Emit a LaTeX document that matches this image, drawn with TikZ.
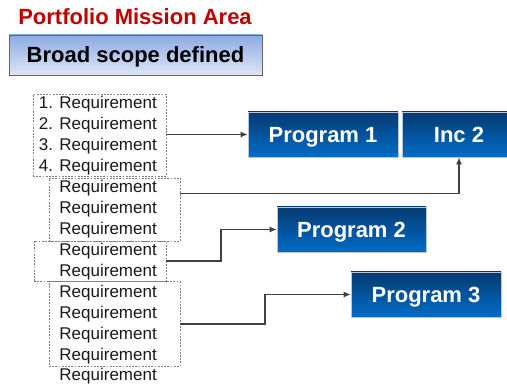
\documentclass[tikz,border=0pt]{standalone}
\usepackage{fontspec}
\setmainfont{Liberation Sans}
\usetikzlibrary{arrows.meta,calc}

\definecolor{titlered}{RGB}{192,0,0}
\definecolor{progtop}{RGB}{6,58,112}
\definecolor{progmid}{RGB}{0,94,176}
\definecolor{progbot}{RGB}{0,108,200}
\definecolor{scopetop}{RGB}{140,170,226}
\definecolor{scopebot}{RGB}{222,230,247}
\definecolor{linegray}{RGB}{64,64,64}

\begin{document}
\begin{tikzpicture}[
		x=1pt, y=-1pt,
		every node/.style={inner sep=0pt},
		prog/.style={rectangle, minimum width=150pt, minimum height=45pt,
			text height=15.8pt, text depth=0pt,
			top color=progtop, middle color=progmid, bottom color=progbot,
			draw={rgb,255:red,185;green,198;blue,215}, line width=0.7pt,
			text=white, font=\fontsize{22}{26}\selectfont\bfseries},
		reqbox/.style={rectangle, draw=gray, line width=0.7pt,
			dash pattern=on 1.8pt off 1.4pt},
		req/.style={anchor=base east, font=\fontsize{17}{20}\selectfont,
			text={rgb,255:red,25;green,25;blue,25}},
		feed/.style={draw=linegray, line width=1.1pt,
			-{Latex[length=7pt,width=6pt]}}
	]
  \clip (0,0) rectangle (507,385);
  \node (title) [anchor=base, text=titlered, font=\fontsize{22}{26}\selectfont\bfseries]
    at (135,25) {Portfolio Mission Area};
  \node (scope) [rectangle, minimum width=253pt, minimum height=40pt,
    text height=15.8pt, text depth=0pt,
    top color=scopetop, bottom color=scopebot, draw={rgb,255:red,100;green,100;blue,110},
    line width=0.8pt, font=\fontsize{22}{26}\selectfont\bfseries]
    at (135.5,55) {Broad scope defined};

  \node (box1) [reqbox, minimum width=133pt, minimum height=82pt] at (99.5,135) {};
  \node (box2) [reqbox, minimum width=131pt, minimum height=63pt] at (114.5,209.5) {};
  \node (box3) [reqbox, minimum width=132pt, minimum height=40pt] at (100,261) {};
  \node (box4) [reqbox, minimum width=131pt, minimum height=85pt] at (114.5,324) {};

  \foreach \t [count=\i from 0] in {1. Requirement, 2. Requirement, 3. Requirement,
    4. Requirement, Requirement, Requirement, Requirement, Requirement, Requirement,
    Requirement, Requirement, Requirement, Requirement, Requirement}
    \node (req\i) [req] at (157, 109+20.92*\i) {\t};

  \node (prog1) [prog] at (323,134.5) {Program 1};
  \node (inc2) [prog, minimum width=114pt] at (459,134.5) {Inc 2};
  \node (prog2) [prog, minimum width=149pt] at (351.5,229.5) {Program 2};
  \node (prog3) [prog] at (426,294.5) {Program 3};

  \draw [feed] (box1.east |- prog1.west) -- (prog1.west);
  \draw [feed] ($(box2.north east)!0.25!(box2.south east)$) -| (inc2.south);
  \draw [feed] (box3.east) -| (221,229.5) -- (prog2.west);
  \draw [feed] (box4.east) -| (265,294.5) -- (prog3.west);
\end{tikzpicture}
\end{document}
